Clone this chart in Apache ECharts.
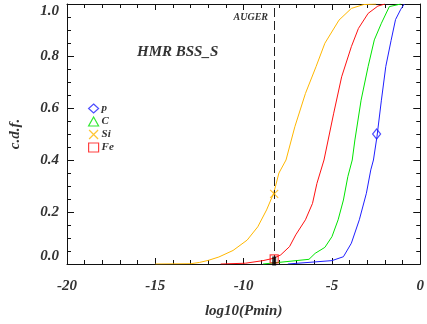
<!DOCTYPE html>
<html>
<head>
<meta charset="utf-8">
<script src="https://cdn.jsdelivr.net/npm/echarts@6/dist/echarts.min.js"></script>
<style>
  html, body { margin: 0; padding: 0; background: #fff; }
  #chart { width: 427px; height: 324px; }
</style>
</head>
<body>
<div id="chart"></div>
<script>
// cdf curves (x = log10(Pmin), y = c.d.f.)
const pX = [-7.5, -5.0, -4.35, -3.9, -3.45, -3.05, -2.8, -2.65, -2.45, -2.2, -1.95, -1.65, -1.4, -1.1, -0.9]
const pY = [0, 0.013, 0.028, 0.08, 0.17, 0.272, 0.362, 0.4, 0.49, 0.63, 0.76, 0.86, 0.94, 0.98, 1.0]
const cX = [-8.9, -6.3, -5.95, -5.4, -5.0, -4.65, -4.35, -4.1, -3.85, -3.7, -3.35, -2.95, -2.6, -2.2, -1.75, -1.1]
const cY = [0, 0.018, 0.041, 0.064, 0.105, 0.17, 0.246, 0.336, 0.4, 0.477, 0.63, 0.76, 0.862, 0.926, 0.99, 1.0]
const siX = [-15, -13, -12.5, -12, -11.4, -10.6, -9.8, -9.2, -8.7, -8.3, -8.0, -7.6, -7.1, -6.5, -5.9, -5.4, -4.6, -3.9, -3.2, -2.5]
const siY = [0, 0.001, 0.006, 0.014, 0.027, 0.052, 0.092, 0.143, 0.208, 0.272, 0.35, 0.4, 0.528, 0.656, 0.759, 0.849, 0.938, 0.983, 0.998, 1.0]
const feX = [-11.3, -9.9, -8.9, -8.3, -7.9, -7.4, -7.05, -6.5, -6.1, -5.85, -5.45, -4.9, -4.45, -3.9, -3.5, -2.95, -2.4, -2.0]
const feY = [0, 0.003, 0.013, 0.022, 0.035, 0.067, 0.112, 0.17, 0.233, 0.31, 0.4, 0.58, 0.72, 0.836, 0.906, 0.964, 0.992, 1.0]

const augerX = -8.27
const pMark = [-2.47, 0.5]
const siMark = [augerX, 0.27]
const feMark = [augerX, 0.02]
const augerMark = [augerX, 0.0]

const colors = { p: '#1f1fff', C: '#00e400', Si: '#ffb700', Fe: '#ff1111' }
const crossPath = 'path://M0,0L10,10M10,0L0,10'

const font = 'Liberation Serif'
const txt = { fontFamily: font, fontStyle: 'italic', fontWeight: 'bold', color: '#333' }

function pairs(xs, ys) {
  return xs.map((x, i) => [x, ys[i]])
}

function curve(name, xs, ys) {
  return {
    name: name + ' cdf',
    type: 'line',
    data: pairs(xs, ys),
    showSymbol: false,
    symbol: 'none',
    lineStyle: { width: 1, color: colors[name] },
    silent: true,
    z: 3,
  }
}

function hollow(c) {
  return { color: 'transparent', borderColor: c, borderWidth: 1.2 }
}

const myChart = echarts.init(document.getElementById('chart'))

const option = {
  animation: false,
  backgroundColor: '#fff',
  title: [
    { text: 'HMR BSS_S', left: 137, top: 45, padding: 0, textStyle: { ...txt, fontSize: 15 } },
    { text: 'AUGER', right: 159, top: 12, padding: 0, textStyle: { ...txt, fontSize: 10 } },
  ],
  legend: {
    orient: 'vertical',
    left: 88,
    top: 103,
    padding: 0,
    itemWidth: 10,
    itemHeight: 9,
    itemGap: 2,
    textStyle: { ...txt, fontSize: 11, padding: [0, 0, 2, -2] },
    data: [
      { name: 'p', icon: 'diamond', itemStyle: hollow(colors.p) },
      { name: 'C', icon: 'triangle', itemStyle: hollow(colors.C) },
      { name: 'Si', icon: crossPath, itemStyle: hollow(colors.Si) },
      { name: 'Fe', icon: 'rect', itemStyle: hollow(colors.Fe) },
    ],
  },
  grid: { left: 65, right: 4, top: 4, bottom: 60 },
  xAxis: [
    {
      type: 'value',
      min: -20,
      max: 0,
      interval: 5,
      name: 'log10(Pmin)',
      nameLocation: 'middle',
      nameGap: 40,
      nameTextStyle: { ...txt, fontSize: 15 },
      axisLine: { onZero: false, lineStyle: { color: '#111', width: 1 } },
      axisTick: { inside: true, length: 6, lineStyle: { color: '#111' } },
      minorTick: { show: true, splitNumber: 5, length: 4, lineStyle: { color: '#111' } },
      axisLabel: { ...txt, fontSize: 15, margin: 15, formatter: v => String(v) },
      splitLine: { show: false },
    },
    {
      type: 'value',
      position: 'top',
      min: -20,
      max: 0,
      interval: 5,
      axisLine: { onZero: false, lineStyle: { color: '#111', width: 1 } },
      axisTick: { inside: true, length: 6, lineStyle: { color: '#111' } },
      minorTick: { show: true, splitNumber: 5, length: 4, lineStyle: { color: '#111' } },
      axisLabel: { show: false },
      splitLine: { show: false },
    },
  ],
  yAxis: [
    {
      type: 'value',
      min: 0,
      max: 1,
      interval: 0.2,
      name: 'c.d.f.',
      nameLocation: 'middle',
      nameGap: 44,
      nameTextStyle: { ...txt, fontSize: 15 },
      axisLine: { onZero: false, lineStyle: { color: '#111', width: 1 } },
      axisTick: { inside: true, length: 7, lineStyle: { color: '#111' } },
      minorTick: { show: true, splitNumber: 4, length: 4, lineStyle: { color: '#111' } },
      axisLabel: {
        ...txt,
        fontSize: 15,
        margin: 8,
        verticalAlignMaxLabel: 'top',
        verticalAlignMinLabel: 'bottom',
        formatter: v => v.toFixed(1),
      },
      splitLine: { show: false },
    },
    {
      type: 'value',
      position: 'right',
      min: 0,
      max: 1,
      interval: 0.2,
      axisLine: { onZero: false, lineStyle: { color: '#111', width: 1 } },
      axisTick: { inside: true, length: 7, lineStyle: { color: '#111' } },
      minorTick: { show: true, splitNumber: 4, length: 4, lineStyle: { color: '#111' } },
      axisLabel: { show: false },
      splitLine: { show: false },
    },
  ],
  series: [
    curve('Si', siX, siY),
    curve('Fe', feX, feY),
    curve('C', cX, cY),
    curve('p', pX, pY),
    {
      name: 'auger',
      type: 'line',
      data: [],
      markLine: {
        silent: true,
        symbol: 'none',
        label: { show: false },
        lineStyle: { color: '#222', type: [9, 4], width: 1 },
        data: [{ xAxis: augerX }],
      },
    },
    {
      name: 'p',
      type: 'scatter',
      data: [pMark],
      symbol: 'diamond',
      symbolSize: [8, 10],
      itemStyle: hollow(colors.p),
      z: 5,
    },
    {
      name: 'C',
      type: 'scatter',
      data: [],
      symbol: 'triangle',
      itemStyle: hollow(colors.C),
    },
    {
      name: 'Si',
      type: 'scatter',
      data: [siMark],
      symbol: crossPath,
      symbolSize: 8,
      itemStyle: hollow(colors.Si),
      z: 5,
    },
    {
      name: 'Fe',
      type: 'scatter',
      data: [feMark],
      symbol: 'rect',
      symbolSize: 8,
      itemStyle: hollow(colors.Fe),
      z: 5,
    },
    {
      name: 'auger point',
      type: 'scatter',
      data: [augerMark],
      symbol: 'rect',
      symbolSize: [4, 9],
      symbolOffset: [0, -3],
      itemStyle: { color: '#000' },
      z: 6,
    },
  ],
}

myChart.setOption(option)
</script>
</body>
</html>
